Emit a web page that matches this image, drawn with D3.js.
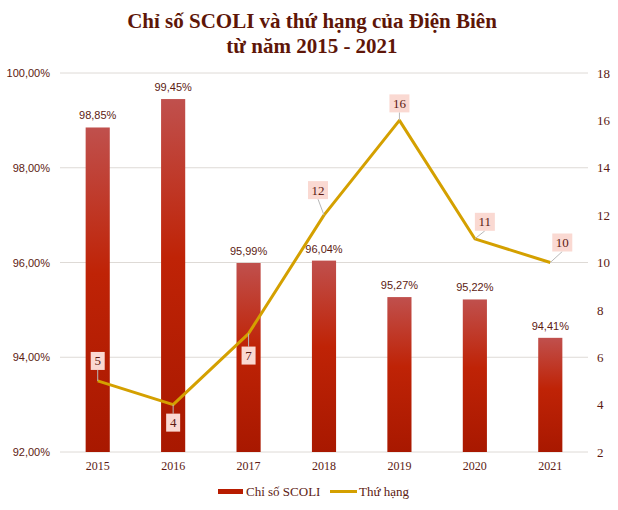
<!DOCTYPE html>
<html><head><meta charset="utf-8">
<script src="https://cdn.jsdelivr.net/npm/d3@7"></script>
<style>body{margin:0;background:#fff;} svg{display:block;}</style>
</head><body>
<svg id="chart" width="618" height="510"></svg>
<script>
const years = ["2015","2016","2017","2018","2019","2020","2021"];
const scoli = [98.85, 99.45, 95.99, 96.04, 95.27, 95.22, 94.41];
const rank = [5, 4, 7, 12, 16, 11, 10];
const leftTicks = [92, 94, 96, 98, 100];
const rightTicks = [2, 4, 6, 8, 10, 12, 14, 16, 18];
// label offsets for rank labels (dx, dy) relative to point
const rankLabelOffsets = [[0,-20],[0,18],[0,22],[-6,-25],[0,-17],[10,-17],[12,-20]];

const svg = d3.select("#chart");
const W = 618, H = 510;
const m = {l:60, r:30, t:73, b:58};
const x = d3.scaleBand().domain(years).range([60, 588]).paddingInner(0.68).paddingOuter(0.34);
const yL = d3.scaleLinear().domain([92,100]).range([452,73]);
const yR = d3.scaleLinear().domain([2,18]).range([452,73]);
const textCol = "#5c1a12";

const defs = svg.append("defs");
const grad = defs.append("linearGradient").attr("id","barGrad").attr("x1",0).attr("y1",0).attr("x2",0).attr("y2",1);
grad.append("stop").attr("offset","0%").attr("stop-color","#c0504d");
grad.append("stop").attr("offset","45%").attr("stop-color","#bf2306");
grad.append("stop").attr("offset","100%").attr("stop-color","#a81800");

// Title
svg.append("text").attr("x", W/2+3).attr("y", 28).attr("text-anchor","middle")
  .attr("font-family","Liberation Serif").attr("font-weight","bold").attr("font-size",21).attr("fill","#5e1608")
  .text("Chỉ số SCOLI và thứ hạng của Điện Biên");
svg.append("text").attr("x", W/2+3).attr("y", 53).attr("text-anchor","middle")
  .attr("font-family","Liberation Serif").attr("font-weight","bold").attr("font-size",21).attr("fill","#5e1608")
  .text("từ năm 2015 - 2021");

// Gridlines
svg.append("g").selectAll("line").data(leftTicks).join("line")
  .attr("x1",60).attr("x2",588).attr("y1",d=>yL(d)).attr("y2",d=>yL(d))
  .attr("stroke","#dedad6").attr("stroke-width",1);

// Left axis
const axL = d3.axisLeft(yL).tickValues(leftTicks).tickSize(0).tickPadding(10)
  .tickFormat(d=>d.toFixed(2).replace(".",",")+"%");
const gL = svg.append("g").attr("transform","translate(60,0)").call(axL);
gL.select(".domain").remove();
gL.selectAll("text").attr("font-family","Liberation Sans").attr("font-size",11).attr("fill",textCol);

// Right axis
const axR = d3.axisRight(yR).tickValues(rightTicks).tickSize(0).tickPadding(9);
const gR = svg.append("g").attr("transform","translate(588,0)").call(axR);
gR.select(".domain").remove();
gR.selectAll("text").attr("font-family","Liberation Serif").attr("font-size",13).attr("fill",textCol);

// Bottom axis
const axB = d3.axisBottom(x).tickSize(0).tickPadding(9);
const gB = svg.append("g").attr("transform","translate(0,452)").call(axB);
gB.select(".domain").remove();
gB.selectAll("text").attr("font-family","Liberation Serif").attr("font-size",12).attr("fill",textCol);

// Bars
svg.append("g").selectAll("rect").data(scoli).join("rect")
  .attr("x",(d,i)=>x(years[i])).attr("width",x.bandwidth())
  .attr("y",d=>yL(d)).attr("height",d=>yL(92)-yL(d))
  .attr("fill","url(#barGrad)");

// Bar labels
svg.append("g").selectAll("text").data(scoli).join("text")
  .attr("x",(d,i)=>x(years[i])+x.bandwidth()/2).attr("y",d=>yL(d)-8)
  .attr("text-anchor","middle").attr("font-family","Liberation Sans").attr("font-size",11).attr("fill",textCol)
  .text(d=>d.toFixed(2).replace(".",",")+"%");

// Line
const cx = i => x(years[i]) + x.bandwidth()/2;
const line = d3.line().x((d,i)=>cx(i)).y(d=>yR(d));
svg.append("path").datum(rank).attr("d",line).attr("fill","none")
  .attr("stroke","#d4a000").attr("stroke-width",3).attr("stroke-linejoin","round");

// Rank labels
const lg = svg.append("g");
rank.forEach((d,i)=>{
  const px = cx(i), py = yR(d);
  const [dx,dy] = rankLabelOffsets[i];
  const lx = px+dx, ly = py+dy;
  const w = String(d).length>1 ? 20 : 14, h = 18;
  // leader line
  const ey = dy<0 ? ly + h/2 : ly - h/2;
  lg.append("line").attr("x1",px).attr("y1",py).attr("x2",lx).attr("y2",ey)
    .attr("stroke","#b8b8b8").attr("stroke-width",1);
  lg.append("rect").attr("x",lx-w/2).attr("y",ly-h/2).attr("width",w).attr("height",h)
    .attr("fill","#fad9d2");
  lg.append("text").attr("x",lx).attr("y",ly+4.5).attr("text-anchor","middle")
    .attr("font-family","Liberation Serif").attr("font-size",13).attr("fill",textCol).text(d);
});

// Legend
const leg = svg.append("g");
leg.append("rect").attr("x",218).attr("y",489).attr("width",25).attr("height",5).attr("fill","#b81c00");
leg.append("text").attr("x",246).attr("y",496).attr("font-family","Liberation Serif").attr("font-size",13)
  .attr("fill",textCol).text("Chỉ số SCOLI");
leg.append("line").attr("x1",330).attr("x2",357).attr("y1",491.5).attr("y2",491.5)
  .attr("stroke","#d4a000").attr("stroke-width",3);
leg.append("text").attr("x",359).attr("y",496).attr("font-family","Liberation Serif").attr("font-size",13)
  .attr("fill",textCol).text("Thứ hạng");
</script>
</body></html>
